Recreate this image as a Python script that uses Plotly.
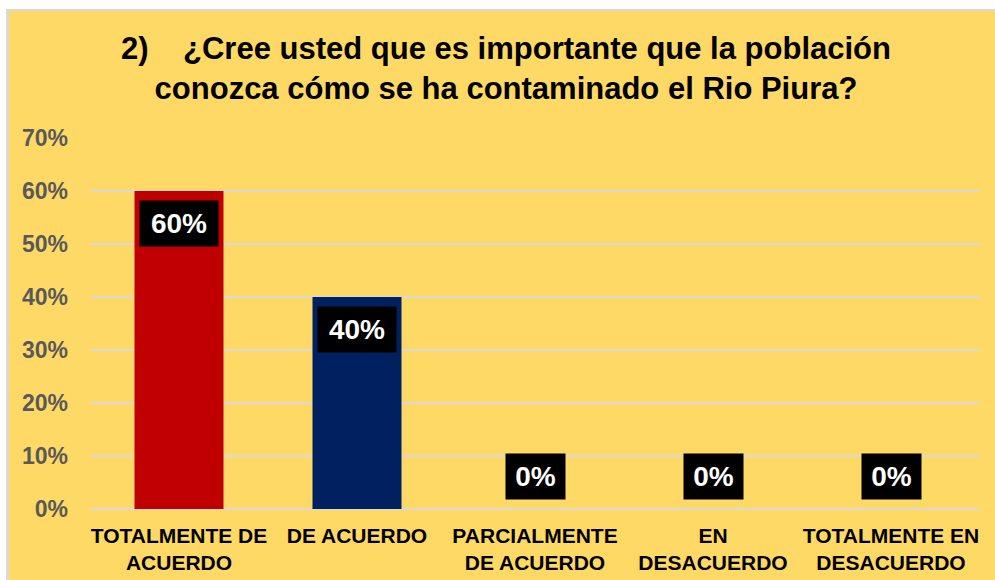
import plotly.graph_objects as go

categories = ["TOTALMENTE DE<br>ACUERDO", "DE ACUERDO", "PARCIALMENTE<br>DE ACUERDO",
              "EN<br>DESACUERDO", "TOTALMENTE EN<br>DESACUERDO"]
values = [0.60, 0.40, 0.0, 0.0, 0.0]
bar_colors = ["#C00000", "#002060", "#C00000", "#C00000", "#C00000"]
y_ticks = [0, 0.1, 0.2, 0.3, 0.4, 0.5, 0.6, 0.7]
y_tick_labels = ["0%", "10%", "20%", "30%", "40%", "50%", "60%", "70%"]
title_text = ("2)\u00a0\u00a0\u00a0\u00a0¿Cree usted que es importante que la población<br>"
              "conozca cómo se ha contaminado el Rio Piura?")

YELLOW = "#FFD966"
GRID = "#D9D9D9"
FONT = "Liberation Sans, Arial"

FW, FH = 995, 580
L, R, T, B = 90, 15, 138, 71
PW, PH = FW - L - R, FH - T - B

def px_x(p):
    return (p - L) / PW

def px_y(p):
    return (FH - B - p) / PH

fig = go.Figure()
fig.add_trace(go.Bar(
    x=categories, y=values,
    marker=dict(color=bar_colors, line=dict(width=0)),
    hoverinfo="skip",
))

annotations = []
for c, v in zip(categories, values):
    label = f"<b>{round(v*100)}%</b>"
    if v > 0:
        annotations.append(dict(x=c, y=v, xref="x", yref="y", yanchor="top", yshift=-9,
                                text=label, showarrow=False,
                                font=dict(family=FONT, size=28, color="white"),
                                bgcolor="black", width=78, height=45, borderpad=0))
    else:
        annotations.append(dict(x=c, y=v, xref="x", yref="y", yanchor="bottom", yshift=9,
                                text=label, showarrow=False,
                                font=dict(family=FONT, size=28, color="white"),
                                bgcolor="black", width=59, height=45, borderpad=0))

shapes = [
    # top white strip + gray border
    dict(type="rect", xref="paper", yref="paper", x0=px_x(0), x1=px_x(FW), y0=px_y(9), y1=px_y(0),
         fillcolor="white", line=dict(width=0), layer="above"),
    dict(type="rect", xref="paper", yref="paper", x0=px_x(6), x1=px_x(FW), y0=px_y(11), y1=px_y(9),
         fillcolor=GRID, line=dict(width=0), layer="above"),
    # left white strip + gray border
    dict(type="rect", xref="paper", yref="paper", x0=px_x(0), x1=px_x(6), y0=px_y(FH), y1=px_y(0),
         fillcolor="white", line=dict(width=0), layer="above"),
    dict(type="rect", xref="paper", yref="paper", x0=px_x(6), x1=px_x(9), y0=px_y(FH), y1=px_y(9),
         fillcolor=GRID, line=dict(width=0), layer="above"),
]

fig.update_layout(
    width=FW, height=FH,
    margin=dict(l=L, r=R, t=T, b=B),
    paper_bgcolor=YELLOW, plot_bgcolor=YELLOW,
    bargap=0.5,
    showlegend=False,
    title=dict(text=f"<b>{title_text}</b>", x=506 / FW, xanchor="center", xref="container",
               y=1 - 59 / FH, yanchor="middle",
               font=dict(family=FONT, size=31, color="black")),
    annotations=annotations,
    shapes=shapes,
    xaxis=dict(showgrid=False, showline=False, zeroline=False, ticks="", automargin=False,
               tickvals=categories, ticktext=[f"<b>{c}</b>" for c in categories],
               tickfont=dict(family=FONT, size=21, color="black"),
               ticklabelstandoff=12),
    yaxis=dict(range=[0, 0.7], tickvals=y_ticks, ticktext=[f"<b>{t}</b>" for t in y_tick_labels],
               showgrid=True, gridcolor=GRID, gridwidth=1.5, zeroline=True, zerolinecolor=GRID,
               zerolinewidth=2, showline=False, ticks="", automargin=False,
               tickfont=dict(family=FONT, size=23, color="#595959"),
               ticklabelstandoff=21),
)

fig.write_html(
    "out.html",
    config={"displayModeBar": False},
    post_script=("document.body.style.margin='0';document.body.style.overflow='hidden';"
                 "document.body.style.width='995px';document.body.style.height='580px';"),
)
